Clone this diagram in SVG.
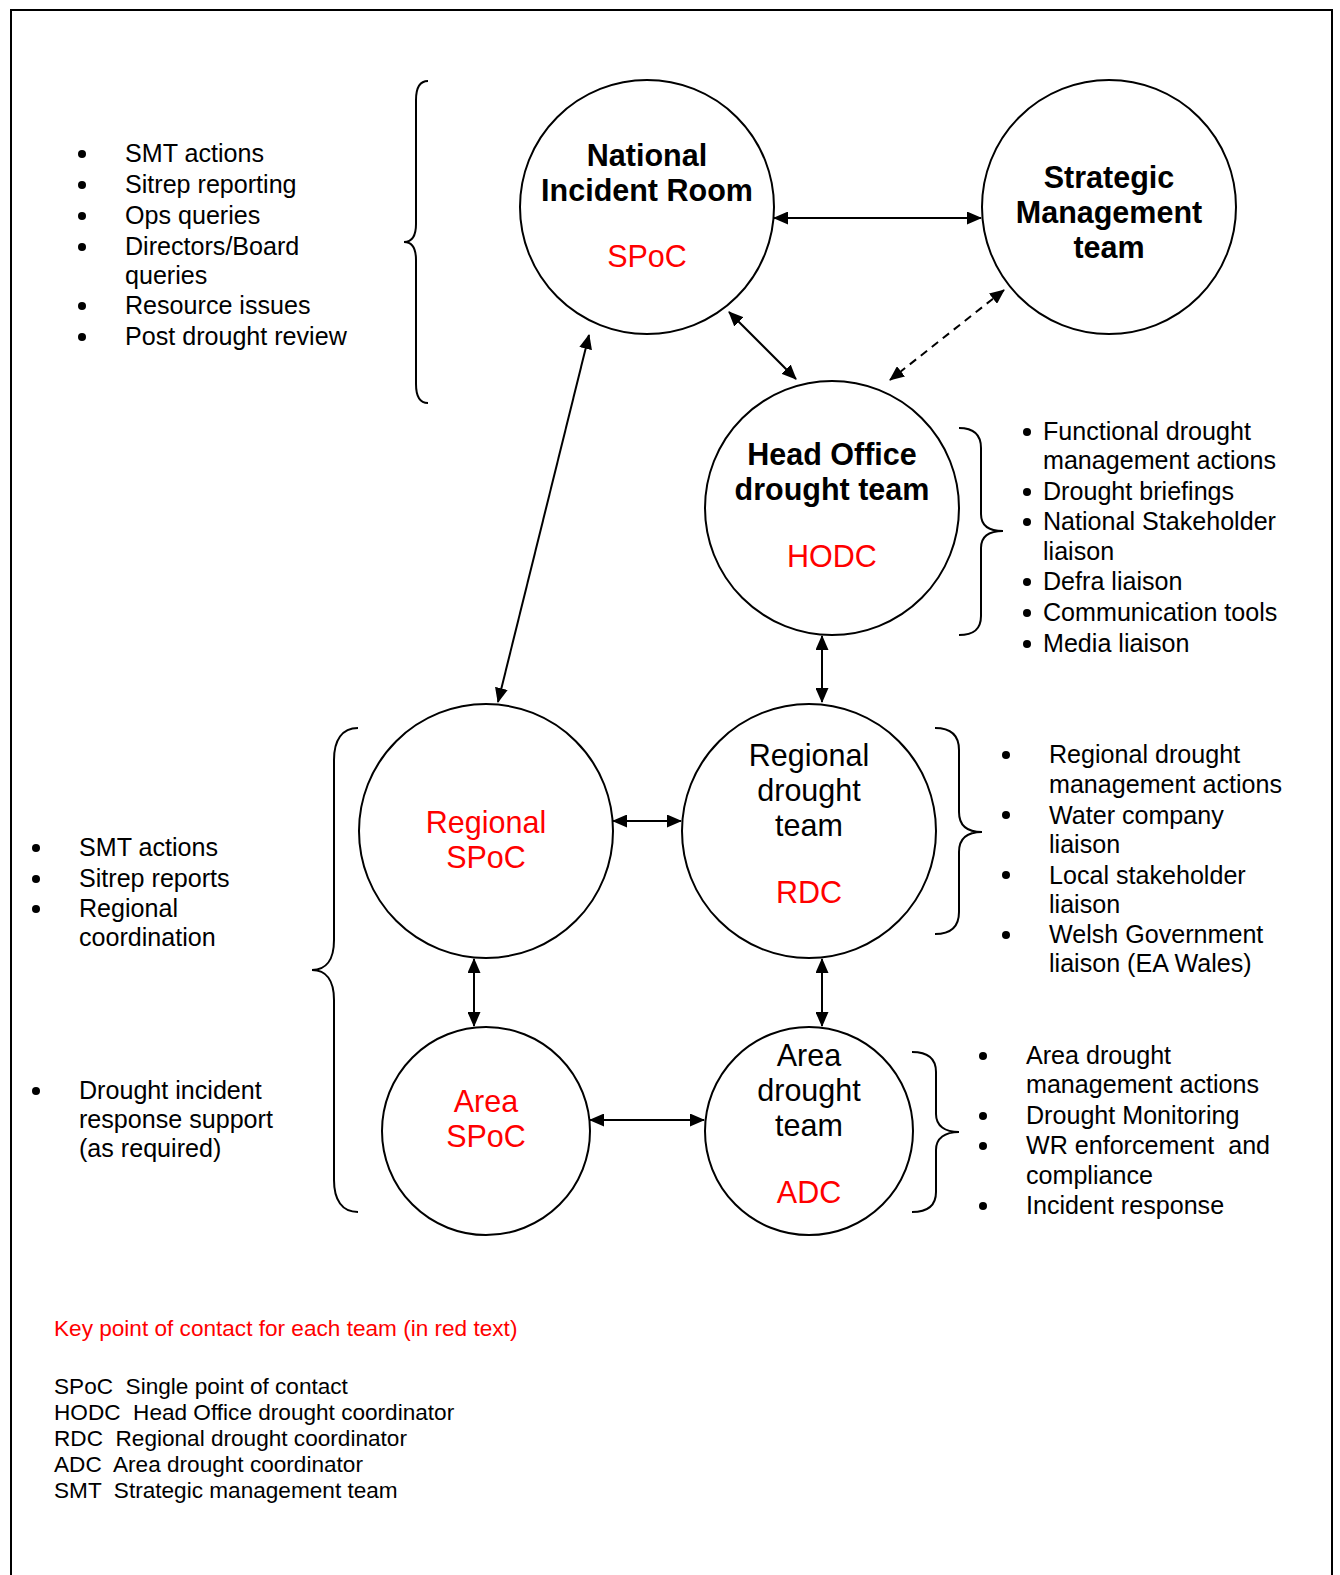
<svg xmlns="http://www.w3.org/2000/svg" width="1340" height="1575" viewBox="0 0 1340 1575">
<defs>
<style>
.node circle{fill:#fff;stroke:#000;stroke-width:2}
.t{font-family:"Liberation Sans",Arial,sans-serif;font-size:30.5px;text-anchor:middle;fill:#000}
.b{font-weight:bold}
.lbl{font-family:"Liberation Sans",Arial,sans-serif;font-size:25.1px;fill:#000}
.key{font-family:"Liberation Sans",Arial,sans-serif;font-size:22.6px;fill:#000}
.red{fill:#ff0000}
.brace{fill:none;stroke:#000;stroke-width:2}
.dot{fill:#000}
.conn line{stroke:#000;stroke-width:2;marker-start:url(#ah);marker-end:url(#ah)}
.conn .dash{stroke-dasharray:8 6}
</style>
<marker id="ah" markerUnits="userSpaceOnUse" markerWidth="15" markerHeight="13" refX="14" refY="6.5" orient="auto-start-reverse">
<path d="M0,0 L15,6.5 L0,13 z" fill="#000"/>
</marker>
</defs>
<rect width="1340" height="1575" fill="#fff"/>
<path d="M11,1575 L11,10 L1332,10 L1332,1575" fill="none" stroke="#000" stroke-width="2"/>

<g id="connectors" class="conn">
<line x1="774" y1="218" x2="981" y2="218"/>
<line x1="729" y1="312" x2="796" y2="379"/>
<line class="dash" x1="1004" y1="290" x2="890" y2="380"/>
<line x1="589" y1="335" x2="498" y2="702"/>
<line x1="822" y1="636" x2="822" y2="702"/>
<line x1="613" y1="821" x2="681" y2="821"/>
<line x1="474" y1="959" x2="474" y2="1026"/>
<line x1="822" y1="959" x2="822" y2="1026"/>
<line x1="590" y1="1120" x2="704" y2="1120"/>
</g>

<g id="nir" class="node">
<circle cx="647" cy="207" r="127"/>
<text class="t b" x="647" y="166">National</text>
<text class="t b" x="647" y="201">Incident Room</text>
<text class="t red" x="647" y="267">SPoC</text>
</g>
<g id="smt" class="node">
<circle cx="1109" cy="207" r="127"/>
<text class="t b" x="1109" y="188">Strategic</text>
<text class="t b" x="1109" y="223">Management</text>
<text class="t b" x="1109" y="258">team</text>
</g>
<g id="ho" class="node">
<circle cx="832" cy="508" r="127"/>
<text class="t b" x="832" y="465">Head Office</text>
<text class="t b" x="832" y="500">drought team</text>
<text class="t red" x="832" y="567">HODC</text>
</g>
<g id="rspoc" class="node">
<circle cx="486" cy="831" r="127"/>
<text class="t red" x="486" y="833">Regional</text>
<text class="t red" x="486" y="868">SPoC</text>
</g>
<g id="rdt" class="node">
<circle cx="809" cy="831" r="127"/>
<text class="t" x="809" y="766">Regional</text>
<text class="t" x="809" y="801">drought</text>
<text class="t" x="809" y="836">team</text>
<text class="t red" x="809" y="903">RDC</text>
</g>
<g id="aspoc" class="node">
<circle cx="486" cy="1131" r="104"/>
<text class="t red" x="486" y="1112">Area</text>
<text class="t red" x="486" y="1147">SPoC</text>
</g>
<g id="adt" class="node">
<circle cx="809" cy="1131" r="104"/>
<text class="t" x="809" y="1066">Area</text>
<text class="t" x="809" y="1101">drought</text>
<text class="t" x="809" y="1136">team</text>
<text class="t red" x="809" y="1203">ADC</text>
</g>

<g id="braces">
<path class="brace" d="M428,81 C420,81 416,88 416,100 L416,224 C416,236 412,242 404,242 C412,242 416,248 416,260 L416,384 C416,396 420,403 428,403"/>
<path class="brace" d="M959,428 C973,428 981,434 981,448 L981,514 C981,526 990,531 1003,531 C990,531 981,536 981,548 L981,616 C981,630 973,635 959,635"/>
<path class="brace" d="M358,728 C342,728 334,740 334,760 L334,940 C334,960 326,970 312,970 C326,970 334,980 334,1000 L334,1180 C334,1200 342,1212 358,1212"/>
<path class="brace" d="M935,728 C950,728 959,734 959,750 L959,812 C959,826 968,832 982,832 C968,832 959,838 959,852 L959,912 C959,928 950,934 935,934"/>
<path class="brace" d="M912,1052 C927,1052 936,1058 936,1072 L936,1114 C936,1126 945,1132 959,1132 C945,1132 936,1138 936,1150 L936,1192 C936,1206 927,1212 912,1212"/>
</g>

<g id="list-national">
<circle class="dot" cx="82" cy="154" r="4"/>
<circle class="dot" cx="82" cy="185" r="4"/>
<circle class="dot" cx="82" cy="216" r="4"/>
<circle class="dot" cx="82" cy="247" r="4"/>
<circle class="dot" cx="82" cy="306" r="4"/>
<circle class="dot" cx="82" cy="337" r="4"/>
<text class="lbl" x="125" y="162">SMT actions</text>
<text class="lbl" x="125" y="193">Sitrep reporting</text>
<text class="lbl" x="125" y="224">Ops queries</text>
<text class="lbl" x="125" y="255">Directors/Board</text>
<text class="lbl" x="125" y="284">queries</text>
<text class="lbl" x="125" y="314">Resource issues</text>
<text class="lbl" x="125" y="345">Post drought review</text>
</g>

<g id="list-ho">
<circle class="dot" cx="1027" cy="432" r="4"/>
<circle class="dot" cx="1027" cy="492" r="4"/>
<circle class="dot" cx="1027" cy="522" r="4"/>
<circle class="dot" cx="1027" cy="582" r="4"/>
<circle class="dot" cx="1027" cy="613" r="4"/>
<circle class="dot" cx="1027" cy="644" r="4"/>
<text class="lbl" x="1043" y="440">Functional drought</text>
<text class="lbl" x="1043" y="469">management actions</text>
<text class="lbl" x="1043" y="500">Drought briefings</text>
<text class="lbl" x="1043" y="530">National Stakeholder</text>
<text class="lbl" x="1043" y="560">liaison</text>
<text class="lbl" x="1043" y="590">Defra liaison</text>
<text class="lbl" x="1043" y="621">Communication tools</text>
<text class="lbl" x="1043" y="652">Media liaison</text>
</g>

<g id="list-rdt">
<circle class="dot" cx="1006" cy="755" r="4"/>
<circle class="dot" cx="1006" cy="815" r="4"/>
<circle class="dot" cx="1006" cy="875" r="4"/>
<circle class="dot" cx="1006" cy="935" r="4"/>
<text class="lbl" x="1049" y="763">Regional drought</text>
<text class="lbl" x="1049" y="793">management actions</text>
<text class="lbl" x="1049" y="824">Water company</text>
<text class="lbl" x="1049" y="853">liaison</text>
<text class="lbl" x="1049" y="884">Local stakeholder</text>
<text class="lbl" x="1049" y="913">liaison</text>
<text class="lbl" x="1049" y="943">Welsh Government</text>
<text class="lbl" x="1049" y="972">liaison (EA Wales)</text>
</g>

<g id="list-adt">
<circle class="dot" cx="983" cy="1056" r="4"/>
<circle class="dot" cx="983" cy="1116" r="4"/>
<circle class="dot" cx="983" cy="1146" r="4"/>
<circle class="dot" cx="983" cy="1206" r="4"/>
<text class="lbl" x="1026" y="1064">Area drought</text>
<text class="lbl" x="1026" y="1093">management actions</text>
<text class="lbl" x="1026" y="1124">Drought Monitoring</text>
<text class="lbl" x="1026" y="1154" xml:space="preserve">WR enforcement  and</text>
<text class="lbl" x="1026" y="1184">compliance</text>
<text class="lbl" x="1026" y="1214">Incident response</text>
</g>

<g id="list-regional">
<circle class="dot" cx="36" cy="848" r="4"/>
<circle class="dot" cx="36" cy="879" r="4"/>
<circle class="dot" cx="36" cy="909" r="4"/>
<circle class="dot" cx="36" cy="1091" r="4"/>
<text class="lbl" x="79" y="856">SMT actions</text>
<text class="lbl" x="79" y="887">Sitrep reports</text>
<text class="lbl" x="79" y="917">Regional</text>
<text class="lbl" x="79" y="946">coordination</text>
<text class="lbl" x="79" y="1099">Drought incident</text>
<text class="lbl" x="79" y="1128">response support</text>
<text class="lbl" x="79" y="1157">(as required)</text>
</g>

<g id="legend">
<text class="key red" x="54" y="1336">Key point of contact for each team (in red text)</text>
<text class="key" x="54" y="1394" xml:space="preserve">SPoC  Single point of contact</text>
<text class="key" x="54" y="1420" xml:space="preserve">HODC  Head Office drought coordinator</text>
<text class="key" x="54" y="1446" xml:space="preserve">RDC  Regional drought coordinator</text>
<text class="key" x="54" y="1472" xml:space="preserve">ADC  Area drought coordinator</text>
<text class="key" x="54" y="1498" xml:space="preserve">SMT  Strategic management team</text>
</g>
</svg>
